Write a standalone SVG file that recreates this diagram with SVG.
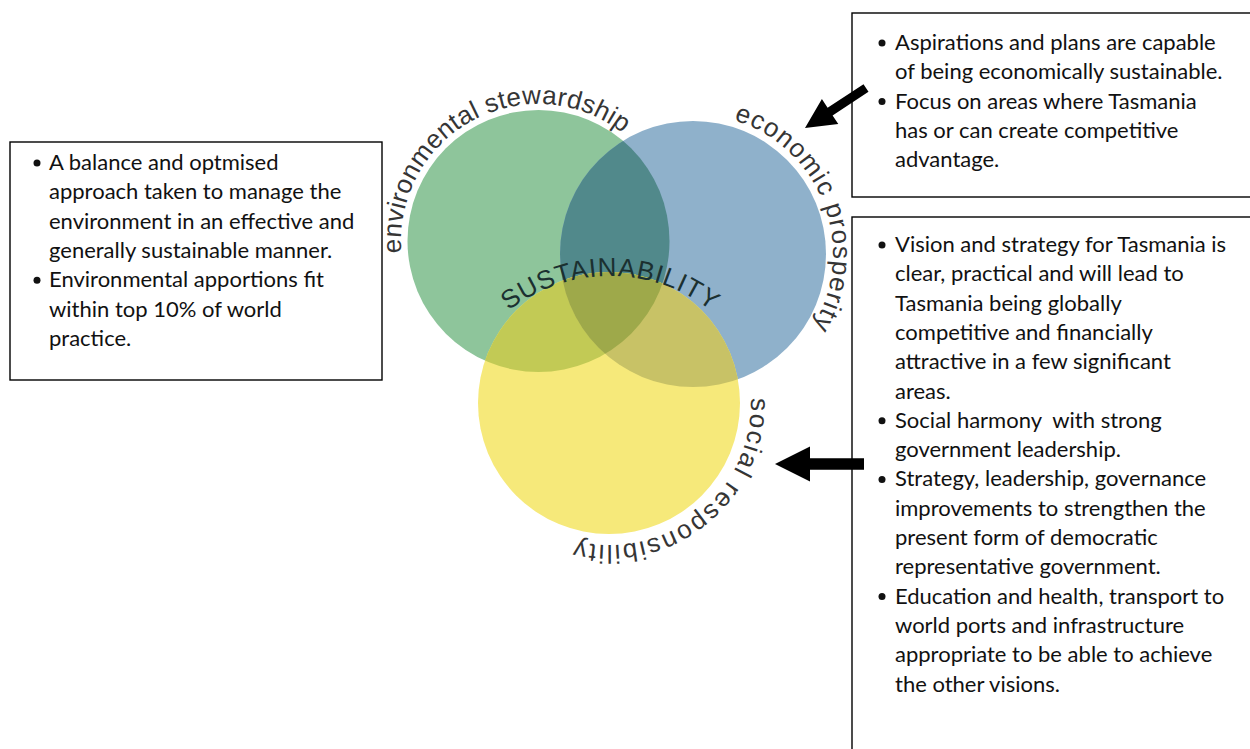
<svg xmlns="http://www.w3.org/2000/svg" width="1250" height="749" viewBox="0 0 1250 749">
  <style>
    .box { fill: #ffffff; stroke: #000000; stroke-width: 1.4; }
    .body { font-family: Lato, "Liberation Sans", sans-serif; font-size: 22px; fill: #111111; }
    .dot { fill: #111111; }
    .arc-label { font-family: "Liberation Sans", Arial, sans-serif; font-size: 26px; fill: #353535; }
    .core { font-family: "Liberation Sans", Arial, sans-serif; font-size: 26px; fill: #1b3030; }
    .arrow { fill: #000000; }
  </style>
  <defs>
    <clipPath id="cGreen"><circle cx="538.5" cy="241" r="131"/></clipPath>
    <clipPath id="cBlue"><circle cx="693" cy="254" r="133"/></clipPath>
    <path id="pEnv" d="M 401.5 252.9 A 137 137 0 0 1 642.9 152.9" fill="none"/>
    <path id="pEcon" d="M 733.9 120.1 A 140 140 0 0 1 800.2 344" fill="none"/>
    <path id="pSoc" d="M 750.9 398 A 142 142 0 0 1 517.7 511.8" fill="none"/>
    <path id="pCore" d="M 483.6 334.9 A 165 165 0 0 1 736.4 334.9" fill="none"/>
  </defs>

  <rect width="1250" height="749" fill="#ffffff"/>

  <!-- three-circle sustainability model -->
  <g id="venn">
    <circle cx="538.5" cy="241" r="131" fill="#8ec59b"/>
    <circle cx="693" cy="254" r="133" fill="#8fb1cb"/>
    <circle cx="693" cy="254" r="133" fill="#51898b" clip-path="url(#cGreen)"/>
    <circle cx="609" cy="403" r="131" fill="#f6e97a"/>
    <circle cx="609" cy="403" r="131" fill="#c2ca55" clip-path="url(#cGreen)"/>
    <circle cx="609" cy="403" r="131" fill="#c8c266" clip-path="url(#cBlue)"/>
    <g clip-path="url(#cBlue)">
      <circle cx="609" cy="403" r="131" fill="#9ea94a" clip-path="url(#cGreen)"/>
    </g>
  </g>

  <g id="label-environmental">
    <text class="arc-label"><textPath href="#pEnv" textLength="318">environmental stewardship</textPath></text>
  </g>
  <g id="label-economic">
    <text class="arc-label"><textPath href="#pEcon" textLength="254">economic prosperity</textPath></text>
  </g>
  <g id="label-social">
    <text class="arc-label"><textPath href="#pSoc" textLength="262">social responsibility</textPath></text>
  </g>
  <g id="label-core">
    <text class="core" text-anchor="middle"><textPath href="#pCore" startOffset="50%" textLength="218">SUSTAINABILITY</textPath></text>
  </g>

  <!-- environment notes -->
  <g id="box-environment">
    <rect class="box" x="10" y="142" width="372" height="238"/>
    <circle class="dot" cx="37" cy="163" r="3.5"/>
    <circle class="dot" cx="37" cy="280.2" r="3.5"/>
    <text class="body">
      <tspan x="49" y="170">A balance and optmised</tspan>
      <tspan x="49" y="199.3">approach taken to manage the</tspan>
      <tspan x="49" y="228.6">environment in an effective and</tspan>
      <tspan x="49" y="257.9">generally sustainable manner.</tspan>
      <tspan x="49" y="287.2">Environmental apportions fit</tspan>
      <tspan x="49" y="316.5">within top 10% of world</tspan>
      <tspan x="49" y="345.8">practice.</tspan>
    </text>
  </g>

  <!-- economy notes -->
  <g id="box-economy">
    <rect class="box" x="852" y="13" width="420" height="184"/>
    <circle class="dot" cx="882" cy="43" r="3.5"/>
    <circle class="dot" cx="882" cy="101.6" r="3.5"/>
    <text class="body">
      <tspan x="895" y="50">Aspirations and plans are capable</tspan>
      <tspan x="895" y="79.3">of being economically sustainable.</tspan>
      <tspan x="895" y="108.6">Focus on areas where Tasmania</tspan>
      <tspan x="895" y="137.9">has or can create competitive</tspan>
      <tspan x="895" y="167.2">advantage.</tspan>
    </text>
  </g>

  <!-- society notes -->
  <g id="box-society">
    <rect class="box" x="852" y="217" width="420" height="560"/>
    <circle class="dot" cx="882" cy="245" r="3.5"/>
    <circle class="dot" cx="882" cy="420.8" r="3.5"/>
    <circle class="dot" cx="882" cy="479.4" r="3.5"/>
    <circle class="dot" cx="882" cy="596.6" r="3.5"/>
    <text class="body" xml:space="preserve">
      <tspan x="895" y="252">Vision and strategy for Tasmania is</tspan>
      <tspan x="895" y="281.3">clear, practical and will lead to</tspan>
      <tspan x="895" y="310.6">Tasmania being globally</tspan>
      <tspan x="895" y="339.9">competitive and financially</tspan>
      <tspan x="895" y="369.2">attractive in a few significant</tspan>
      <tspan x="895" y="398.5">areas.</tspan>
      <tspan x="895" y="427.8">Social harmony  with strong</tspan>
      <tspan x="895" y="457.1">government leadership.</tspan>
      <tspan x="895" y="486.4">Strategy, leadership, governance</tspan>
      <tspan x="895" y="515.7">improvements to strengthen the</tspan>
      <tspan x="895" y="545">present form of democratic</tspan>
      <tspan x="895" y="574.3">representative government.</tspan>
      <tspan x="895" y="603.6">Education and health, transport to</tspan>
      <tspan x="895" y="632.9">world ports and infrastructure</tspan>
      <tspan x="895" y="662.2">appropriate to be able to achieve</tspan>
      <tspan x="895" y="691.5">the other visions.</tspan>
    </text>
  </g>

  <!-- pointers from the notes to the circles -->
  <g id="connectors">
    <polygon class="arrow" points="805,128 821.9,99.1 827.6,107.8 863.5,84.2 868.5,91.8 832.6,115.4 838.3,124.1"/>
    <polygon class="arrow" points="775,464 810,446.5 810,458.3 864,458.3 864,469.7 810,469.7 810,481.5"/>
  </g>
</svg>
